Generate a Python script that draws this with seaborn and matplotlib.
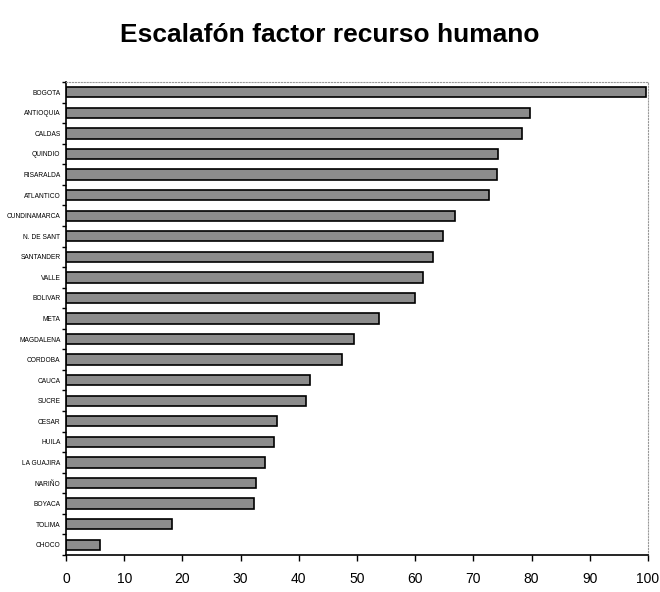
import seaborn as sns
import pandas as pd
import matplotlib.pyplot as plt
from matplotlib.ticker import FixedLocator

# data
departments = ['BOGOTA', 'ANTIOQUIA', 'CALDAS', 'QUINDIO', 'RISARALDA', 'ATLANTICO',
               'CUNDINAMARCA', 'N. DE SANT', 'SANTANDER', 'VALLE', 'BOLIVAR', 'META',
               'MAGDALENA', 'CORDOBA', 'CAUCA', 'SUCRE', 'CESAR', 'HUILA', 'LA GUAJIRA',
               'NARIÑO', 'BOYACA', 'TOLIMA', 'CHOCO']
scores = [99.6, 79.8, 78.3, 74.3, 74.0, 72.7, 66.8, 64.7, 63.1, 61.4, 60.0, 53.7,
          49.5, 47.4, 42.0, 41.3, 36.2, 35.7, 34.2, 32.7, 32.3, 18.2, 5.8]
x_ticks = [0, 10, 20, 30, 40, 50, 60, 70, 80, 90, 100]

df = pd.DataFrame({'dept': departments, 'score': scores})

sns.set_style('white')
plt.rcParams['font.family'] = ['Liberation Sans', 'DejaVu Sans']
plt.rcParams['text.color'] = 'black'
plt.rcParams['xtick.color'] = 'black'
plt.rcParams['ytick.color'] = 'black'

fig = plt.figure(figsize=(6.6, 5.92), dpi=100)
ax = fig.add_axes([66 / 660, 1 - 555 / 592, (648 - 66) / 660, (555 - 82) / 592])

sns.barplot(data=df, x='score', y='dept', orient='h', color='#8c8c8c',
            edgecolor='black', linewidth=1.2, width=0.5, saturation=1, ax=ax)

ax.set_xlim(0, 100)
ax.set_ylim(len(departments) - 0.5, -0.5)
ax.set_xlabel('')
ax.set_ylabel('')

ax.set_xticks(x_ticks)
ax.set_xticklabels([str(t) for t in x_ticks], fontsize=10)
ax.tick_params(axis='x', bottom=True, direction='out', length=4, width=1, color='black', pad=8)

# y labels tiny, ticks sit between categories
ax.tick_params(axis='y', which='major', left=False, length=0, labelsize=4.8, pad=4)
ax.yaxis.set_minor_locator(FixedLocator([i - 0.5 for i in range(len(departments) + 1)]))
ax.tick_params(axis='y', which='minor', left=True, direction='out', length=3, width=1, color='black')

for side in ['left', 'bottom']:
    ax.spines[side].set_color('black')
    ax.spines[side].set_linewidth(1.2)
for side in ['top', 'right']:
    ax.spines[side].set_color('#999999')
    ax.spines[side].set_linewidth(0.8)
    ax.spines[side].set_linestyle(':')

fig.text(0.5, 1 - 35 / 592, 'Escalafón factor recurso humano', ha='center', va='center',
         fontsize=19, fontweight='bold', color='black',
         family=['Liberation Sans Narrow', 'Liberation Sans', 'DejaVu Sans'])

plt.savefig('out.png', dpi=100)
